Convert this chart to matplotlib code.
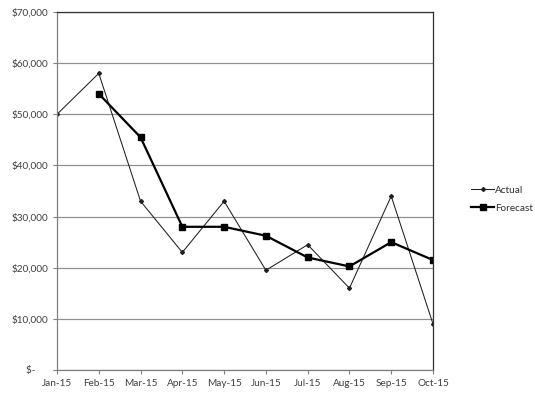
import matplotlib
matplotlib.use("Agg")
import matplotlib.pyplot as plt

months = ["Jan-15", "Feb-15", "Mar-15", "Apr-15", "May-15", "Jun-15",
          "Jul-15", "Aug-15", "Sep-15", "Oct-15"]
actual = [50000, 58000, 33000, 23000, 33000, 19500, 24500, 16000, 34000, 9000]
forecast = [None, 54000, 45500, 28000, 28000, 26250, 22000, 20250, 25000, 21500]
yticks = [0, 10000, 20000, 30000, 40000, 50000, 60000, 70000]
ytick_labels = ["$-     ", "$10,000", "$20,000", "$30,000", "$40,000",
                "$50,000", "$60,000", "$70,000"]

plt.rcParams['font.family'] = ['Lato', 'DejaVu Sans']
fig = plt.figure(figsize=(5.35, 3.97), dpi=100)
ax = fig.add_axes([57/535, 1-370/397, (433-57)/535, (370-12)/397])

x = list(range(len(months)))
fx = [i for i, v in zip(x, forecast) if v is not None]
fv = [v for v in forecast if v is not None]

ax.plot(x, actual, color="#202020", lw=0.75, marker="D", ms=2.0, label="Actual")
ax.plot(fx, fv, color="black", lw=1.6, marker="s", ms=4.2, label="Forecast")

ax.set_xlim(0, len(months)-1)
ax.set_ylim(0, 70000)
ax.set_xticks(x)
ax.set_xticklabels(months)
ax.set_yticks(yticks)
ax.set_yticklabels(ytick_labels)
ax.tick_params(labelsize=7.2, colors="#404040", length=3, width=0.8)
ax.tick_params(axis="both", color="#808080")
ax.grid(axis="y", color="#909090", lw=0.9)
ax.set_axisbelow(True)
for s in ["left", "bottom"]:
    ax.spines[s].set_color("#808080")
for s in ["top", "right"]:
    ax.spines[s].set_color("#303030")
for s in ax.spines.values():
    s.set_linewidth(0.9)

fig.legend(loc="center left", bbox_to_anchor=(462/535, 1-199/397), frameon=False,
           fontsize=7.2, handlelength=2.3, handletextpad=0.1, labelspacing=0.9,
           labelcolor="#303030")

fig.savefig("out.png", dpi=100)
